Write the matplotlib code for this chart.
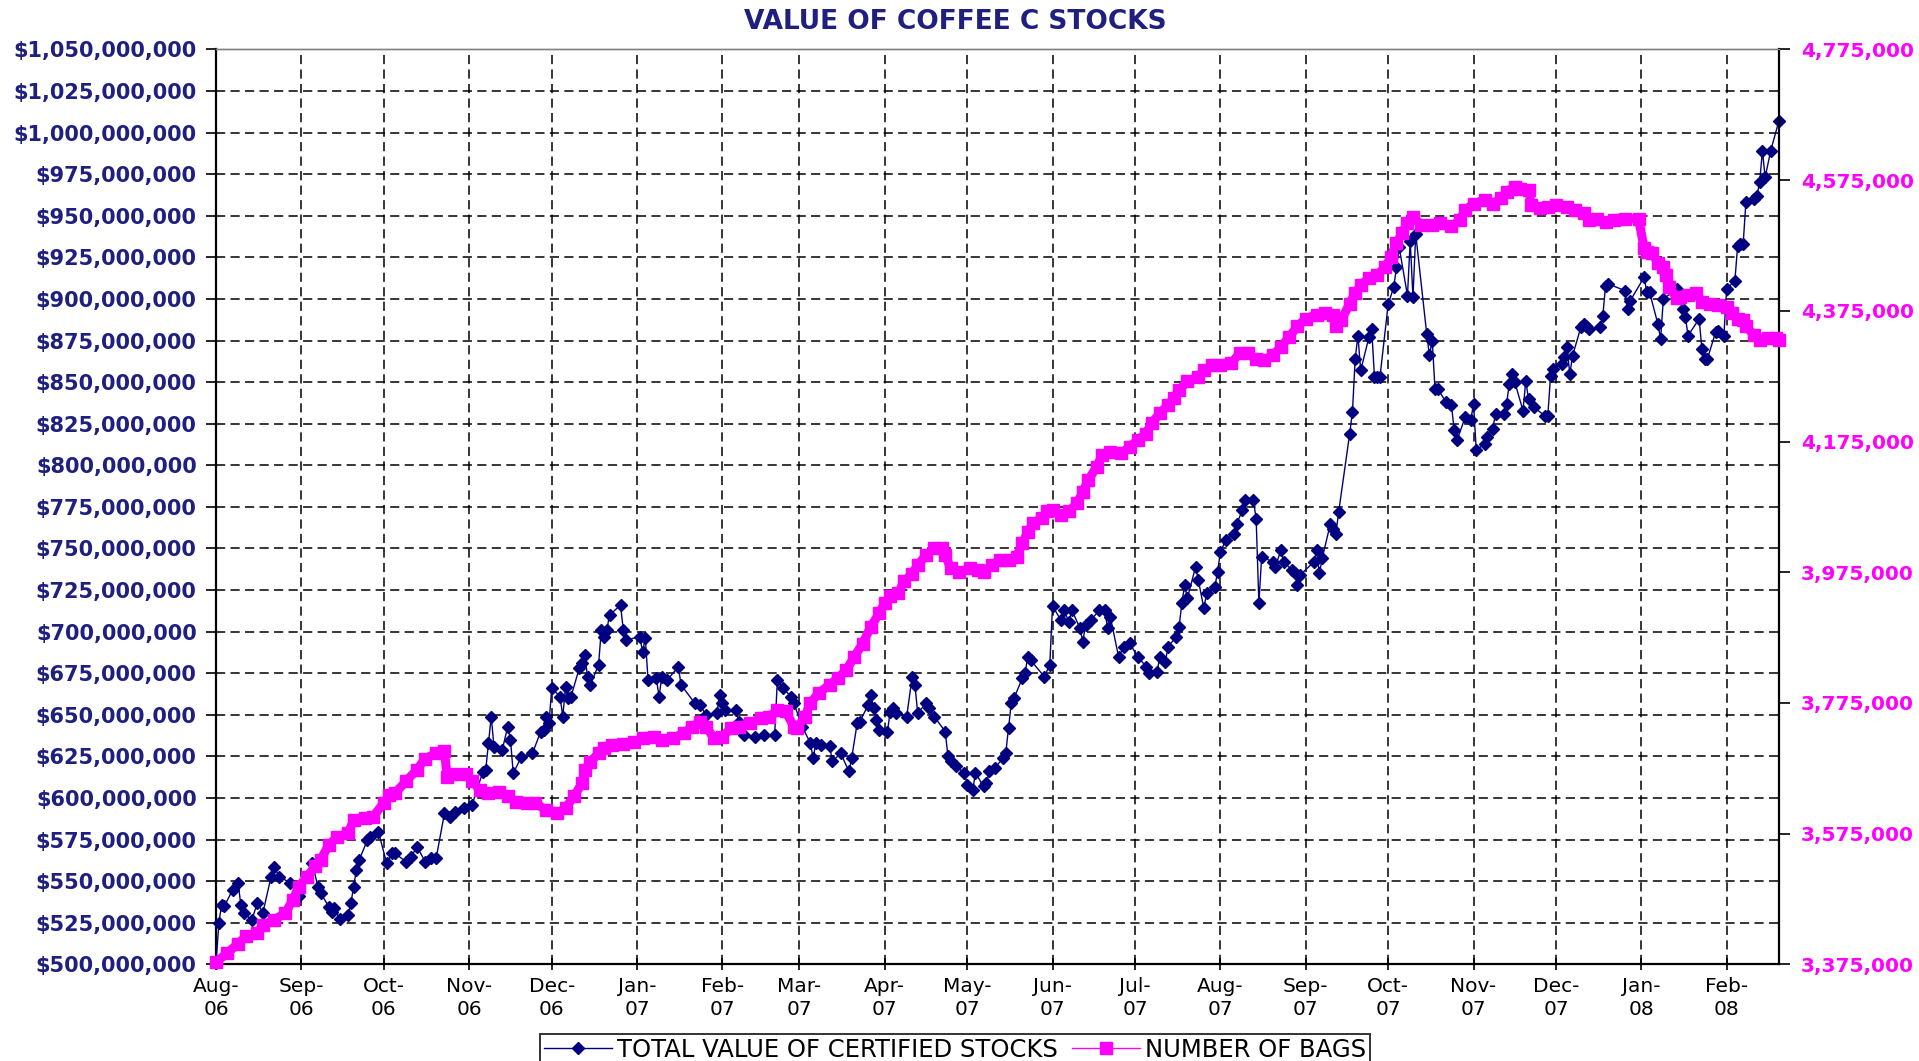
import numpy as np
import pandas as pd
import matplotlib
matplotlib.use("Agg")
import matplotlib.pyplot as plt
import matplotlib.dates as mdates
from matplotlib.ticker import FuncFormatter, MultipleLocator, FixedLocator

# total value of certified stocks, millions of USD
value_dates = [
    "2006-08-01", "2006-08-02", "2006-08-03", "2006-08-04", "2006-08-07", "2006-08-09",
    "2006-08-10", "2006-08-11", "2006-08-14", "2006-08-16", "2006-08-18", "2006-08-21",
    "2006-08-22", "2006-08-24", "2006-08-28", "2006-08-31", "2006-09-05", "2006-09-07",
    "2006-09-08", "2006-09-11", "2006-09-12", "2006-09-13", "2006-09-15", "2006-09-18",
    "2006-09-19", "2006-09-20", "2006-09-21", "2006-09-22", "2006-09-25", "2006-09-26",
    "2006-09-29", "2006-10-02", "2006-10-04", "2006-10-05", "2006-10-09", "2006-10-11",
    "2006-10-13", "2006-10-16", "2006-10-18", "2006-10-20", "2006-10-23", "2006-10-25",
    "2006-10-27", "2006-10-30", "2006-11-02", "2006-11-06", "2006-11-07", "2006-11-08",
    "2006-11-09", "2006-11-10", "2006-11-13", "2006-11-15", "2006-11-16", "2006-11-17",
    "2006-11-20", "2006-11-24", "2006-11-27", "2006-11-28", "2006-11-29", "2006-11-30",
    "2006-12-01", "2006-12-04", "2006-12-05", "2006-12-06", "2006-12-07", "2006-12-08",
    "2006-12-11", "2006-12-12", "2006-12-13", "2006-12-14", "2006-12-15", "2006-12-18",
    "2006-12-19", "2006-12-20", "2006-12-21", "2006-12-22", "2006-12-26", "2006-12-27",
    "2006-12-28", "2007-01-02", "2007-01-03", "2007-01-04", "2007-01-05", "2007-01-08",
    "2007-01-09", "2007-01-10", "2007-01-12", "2007-01-16", "2007-01-17", "2007-01-22",
    "2007-01-24", "2007-01-26", "2007-01-30", "2007-01-31", "2007-02-01", "2007-02-02",
    "2007-02-06", "2007-02-07", "2007-02-09", "2007-02-13", "2007-02-16", "2007-02-20",
    "2007-02-21", "2007-02-23", "2007-02-26", "2007-02-27", "2007-03-02", "2007-03-05",
    "2007-03-06", "2007-03-07", "2007-03-09", "2007-03-12", "2007-03-13", "2007-03-16",
    "2007-03-19", "2007-03-20", "2007-03-22", "2007-03-23", "2007-03-26", "2007-03-27",
    "2007-03-28", "2007-03-29", "2007-03-30", "2007-04-02", "2007-04-03", "2007-04-04",
    "2007-04-05", "2007-04-09", "2007-04-11", "2007-04-12", "2007-04-13", "2007-04-16",
    "2007-04-17", "2007-04-19", "2007-04-23", "2007-04-24", "2007-04-25", "2007-04-27",
    "2007-04-30", "2007-05-01", "2007-05-03", "2007-05-04", "2007-05-07", "2007-05-08",
    "2007-05-09", "2007-05-11", "2007-05-14", "2007-05-15", "2007-05-16", "2007-05-17",
    "2007-05-18", "2007-05-21", "2007-05-22", "2007-05-23", "2007-05-24", "2007-05-29",
    "2007-05-31", "2007-06-01", "2007-06-04", "2007-06-05", "2007-06-07", "2007-06-08",
    "2007-06-11", "2007-06-12", "2007-06-13", "2007-06-15", "2007-06-18", "2007-06-20",
    "2007-06-21", "2007-06-22", "2007-06-25", "2007-06-27", "2007-06-29", "2007-07-02",
    "2007-07-05", "2007-07-06", "2007-07-09", "2007-07-10", "2007-07-12", "2007-07-13",
    "2007-07-16", "2007-07-17", "2007-07-18", "2007-07-19", "2007-07-20", "2007-07-23",
    "2007-07-24", "2007-07-26", "2007-07-27", "2007-07-30", "2007-07-31", "2007-08-01",
    "2007-08-03", "2007-08-06", "2007-08-07", "2007-08-09", "2007-08-10", "2007-08-13",
    "2007-08-14", "2007-08-15", "2007-08-16", "2007-08-20", "2007-08-21", "2007-08-23",
    "2007-08-24", "2007-08-27", "2007-08-28", "2007-08-29", "2007-08-30", "2007-09-04",
    "2007-09-05", "2007-09-06", "2007-09-07", "2007-09-10", "2007-09-11", "2007-09-12",
    "2007-09-13", "2007-09-17", "2007-09-18", "2007-09-19", "2007-09-20", "2007-09-21",
    "2007-09-24", "2007-09-25", "2007-09-26", "2007-09-27", "2007-09-28", "2007-10-01",
    "2007-10-03", "2007-10-04", "2007-10-05", "2007-10-08", "2007-10-09", "2007-10-10",
    "2007-10-11", "2007-10-15", "2007-10-16", "2007-10-17", "2007-10-18", "2007-10-19",
    "2007-10-22", "2007-10-24", "2007-10-25", "2007-10-26", "2007-10-29", "2007-10-31",
    "2007-11-01", "2007-11-02", "2007-11-05", "2007-11-06", "2007-11-08", "2007-11-09",
    "2007-11-12", "2007-11-13", "2007-11-14", "2007-11-15", "2007-11-16", "2007-11-19",
    "2007-11-20", "2007-11-21", "2007-11-23", "2007-11-27", "2007-11-28", "2007-11-29",
    "2007-11-30", "2007-12-03", "2007-12-04", "2007-12-05", "2007-12-06", "2007-12-07",
    "2007-12-10", "2007-12-11", "2007-12-12", "2007-12-13", "2007-12-17", "2007-12-18",
    "2007-12-19", "2007-12-20", "2007-12-26", "2007-12-27", "2007-12-28", "2008-01-02",
    "2008-01-03", "2008-01-04", "2008-01-07", "2008-01-08", "2008-01-09", "2008-01-14",
    "2008-01-16", "2008-01-17", "2008-01-18", "2008-01-22", "2008-01-23", "2008-01-24",
    "2008-01-25", "2008-01-28", "2008-01-29", "2008-01-31", "2008-02-01", "2008-02-04",
    "2008-02-05", "2008-02-06", "2008-02-07", "2008-02-08", "2008-02-11", "2008-02-12",
    "2008-02-13", "2008-02-14", "2008-02-15", "2008-02-17", "2008-02-20",
]
value_musd = [
    500.7, 524.8, 535.8, 535.0, 544.8, 549.0,
    535.8, 531.0, 526.7, 537.0, 531.0, 552.8,
    558.8, 552.8, 549.0, 541.0, 560.8, 546.8,
    542.8, 534.7, 531.7, 533.8, 527.2, 529.7,
    536.8, 546.8, 556.8, 562.8, 574.8, 576.4,
    579.8, 560.8, 566.8, 566.8, 561.8, 564.8,
    570.8, 561.8, 564.0, 564.0, 590.9, 588.8,
    591.8, 593.9, 595.9, 615.9, 617.0, 633.0,
    649.0, 630.9, 628.9, 643.0, 635.0, 614.9,
    624.9, 627.0, 640.0, 641.0, 649.0, 645.0,
    666.0, 661.0, 649.0, 666.6, 660.0, 661.0,
    678.0, 681.0, 686.0, 673.0, 668.0, 680.0,
    701.0, 697.0, 701.0, 710.0, 716.0, 701.0,
    695.0, 697.0, 688.0, 696.0, 671.0, 672.0,
    661.0, 673.0, 671.0, 679.0, 668.0, 657.0,
    656.0, 650.0, 651.0, 662.0, 657.0, 653.0,
    653.0, 646.0, 638.0, 637.0, 638.0, 638.0,
    671.0, 666.0, 661.0, 657.0, 643.0, 633.0,
    624.0, 633.0, 632.0, 631.0, 622.0, 627.0,
    616.0, 624.0, 645.0, 646.0, 656.0, 662.0,
    654.0, 647.0, 641.0, 640.0, 652.0, 654.0,
    651.0, 649.0, 673.0, 668.0, 651.0, 657.0,
    654.0, 649.0, 640.0, 625.0, 622.0, 619.0,
    615.0, 608.0, 605.0, 615.0, 607.0, 609.0,
    616.0, 618.0, 624.0, 627.0, 642.0, 657.0,
    660.0, 672.0, 675.0, 685.0, 683.0, 673.0,
    680.0, 715.5, 707.0, 713.0, 706.0, 713.0,
    702.0, 694.0, 704.0, 707.0, 713.0, 713.0,
    702.0, 709.0, 685.0, 691.0, 693.0, 685.0,
    679.0, 675.0, 676.0, 685.0, 682.0, 691.0,
    697.0, 703.0, 717.0, 728.0, 720.0, 739.0,
    731.0, 714.0, 723.0, 727.0, 736.0, 748.0,
    755.0, 759.0, 765.0, 773.0, 779.0, 779.0,
    768.0, 717.0, 745.0, 742.0, 739.0, 749.0,
    742.0, 737.0, 735.0, 728.0, 734.0, 742.0,
    749.0, 735.0, 744.0, 765.0, 762.0, 759.0,
    772.0, 819.0, 832.0, 864.0, 878.0, 857.0,
    877.0, 882.0, 853.0, 853.0, 853.0, 897.0,
    907.0, 919.0, 931.0, 902.0, 935.0, 901.0,
    939.0, 879.0, 866.0, 875.0, 846.0, 846.0,
    838.0, 836.0, 821.0, 815.0, 829.0, 827.0,
    837.0, 809.0, 813.0, 817.0, 822.0, 831.0,
    830.7, 836.8, 848.8, 854.8, 850.0, 832.8,
    850.8, 839.8, 834.8, 829.7, 829.7, 853.8,
    857.8, 860.8, 864.9, 870.9, 854.8, 865.8,
    882.9, 884.9, 884.0, 881.9, 882.9, 889.9,
    908.0, 909.0, 905.0, 894.0, 899.0, 913.0,
    904.0, 904.0, 885.0, 876.0, 900.0, 906.0,
    894.0, 889.0, 878.0, 888.0, 870.0, 864.0,
    864.0, 880.0, 881.0, 878.0, 906.0, 911.0,
    932.0, 933.0, 933.0, 958.0, 960.0, 962.0,
    970.0, 989.0, 973.0, 989.0, 1007.0,
]

# number of bags, thousands
bag_dates = [
    "2006-08-01", "2006-08-05", "2006-08-09", "2006-08-12", "2006-08-16", "2006-08-18",
    "2006-08-22", "2006-08-26", "2006-08-29", "2006-08-31", "2006-09-03", "2006-09-06",
    "2006-09-08", "2006-09-11", "2006-09-14", "2006-09-18", "2006-09-20", "2006-09-24",
    "2006-09-27", "2006-10-01", "2006-10-03", "2006-10-05", "2006-10-09", "2006-10-13",
    "2006-10-16", "2006-10-20", "2006-10-23", "2006-10-24", "2006-10-26", "2006-10-31",
    "2006-11-02", "2006-11-05", "2006-11-08", "2006-11-12", "2006-11-15", "2006-11-18",
    "2006-11-22", "2006-11-25", "2006-11-29", "2006-12-03", "2006-12-06", "2006-12-09",
    "2006-12-12", "2006-12-13", "2006-12-15", "2006-12-18", "2006-12-20", "2006-12-23",
    "2006-12-27", "2006-12-31", "2007-01-03", "2007-01-07", "2007-01-10", "2007-01-14",
    "2007-01-18", "2007-01-21", "2007-01-24", "2007-01-26", "2007-01-29", "2007-02-01",
    "2007-02-04", "2007-02-07", "2007-02-11", "2007-02-15", "2007-02-18", "2007-02-21",
    "2007-02-24", "2007-02-27", "2007-02-28", "2007-03-03", "2007-03-05", "2007-03-08",
    "2007-03-12", "2007-03-15", "2007-03-18", "2007-03-21", "2007-03-24", "2007-03-27",
    "2007-03-30", "2007-04-01", "2007-04-03", "2007-04-06", "2007-04-08", "2007-04-11",
    "2007-04-13", "2007-04-16", "2007-04-19", "2007-04-22", "2007-04-23", "2007-04-25",
    "2007-04-28", "2007-05-02", "2007-05-05", "2007-05-07", "2007-05-10", "2007-05-13",
    "2007-05-16", "2007-05-19", "2007-05-21", "2007-05-23", "2007-05-25", "2007-05-28",
    "2007-05-30", "2007-06-01", "2007-06-04", "2007-06-07", "2007-06-10", "2007-06-12",
    "2007-06-14", "2007-06-17", "2007-06-19", "2007-06-22", "2007-06-26", "2007-06-29",
    "2007-07-02", "2007-07-05", "2007-07-07", "2007-07-10", "2007-07-13", "2007-07-15",
    "2007-07-17", "2007-07-20", "2007-07-24", "2007-07-26", "2007-07-29", "2007-08-01",
    "2007-08-05", "2007-08-08", "2007-08-11", "2007-08-14", "2007-08-17", "2007-08-20",
    "2007-08-23", "2007-08-26", "2007-08-29", "2007-09-01", "2007-09-05", "2007-09-08",
    "2007-09-11", "2007-09-12", "2007-09-14", "2007-09-17", "2007-09-19", "2007-09-21",
    "2007-09-24", "2007-09-27", "2007-09-30", "2007-10-02", "2007-10-04", "2007-10-06",
    "2007-10-08", "2007-10-10", "2007-10-13", "2007-10-17", "2007-10-20", "2007-10-24",
    "2007-10-27", "2007-10-29", "2007-11-01", "2007-11-05", "2007-11-08", "2007-11-11",
    "2007-11-13", "2007-11-16", "2007-11-18", "2007-11-21", "2007-11-22", "2007-11-25",
    "2007-11-28", "2007-12-01", "2007-12-05", "2007-12-08", "2007-12-11", "2007-12-13",
    "2007-12-16", "2007-12-19", "2007-12-22", "2007-12-26", "2007-12-31", "2008-01-02",
    "2008-01-03", "2008-01-05", "2008-01-07", "2008-01-09", "2008-01-10", "2008-01-11",
    "2008-01-14", "2008-01-15", "2008-01-18", "2008-01-21", "2008-01-23", "2008-01-26",
    "2008-01-29", "2008-02-01", "2008-02-03", "2008-02-05", "2008-02-07", "2008-02-08",
    "2008-02-11", "2008-02-13", "2008-02-16", "2008-02-19", "2008-02-20",
]
bags_k = [
    3379, 3392, 3407, 3418, 3423, 3435,
    3443, 3453, 3474, 3494, 3509, 3525,
    3535, 3558, 3570, 3576, 3596, 3599,
    3601, 3622, 3634, 3637, 3655, 3673,
    3690, 3698, 3701, 3662, 3667, 3667,
    3655, 3642, 3637, 3639, 3632, 3624,
    3622, 3622, 3611, 3606, 3614, 3632,
    3652, 3673, 3685, 3698, 3706, 3711,
    3713, 3716, 3721, 3723, 3718, 3721,
    3729, 3739, 3746, 3739, 3721, 3723,
    3736, 3739, 3744, 3752, 3754, 3764,
    3762, 3739, 3736, 3754, 3775, 3790,
    3803, 3813, 3825, 3846, 3866, 3892,
    3912, 3928, 3938, 3943, 3961, 3973,
    3986, 4001, 4012, 4012, 4001, 3981,
    3976, 3981, 3978, 3976, 3986, 3994,
    3994, 3999, 4019, 4037, 4050, 4058,
    4068, 4070, 4063, 4068, 4081, 4098,
    4116, 4136, 4154, 4159, 4157, 4167,
    4177, 4187, 4203, 4218, 4231, 4241,
    4254, 4267, 4274, 4284, 4292, 4292,
    4295, 4310, 4310, 4302, 4300, 4307,
    4320, 4335, 4351, 4363, 4369, 4371,
    4369, 4351, 4361, 4386, 4402, 4414,
    4425, 4430, 4442, 4458, 4478, 4494,
    4509, 4519, 4506, 4506, 4509, 4504,
    4514, 4529, 4539, 4544, 4539, 4547,
    4557, 4565, 4562, 4560, 4537, 4532,
    4534, 4537, 4534, 4529, 4524, 4514,
    4516, 4511, 4514, 4516, 4516, 4471,
    4465, 4463, 4448, 4442, 4430, 4412,
    4394, 4396, 4399, 4402, 4389, 4386,
    4384, 4381, 4371, 4363, 4361, 4351,
    4338, 4330, 4333, 4333, 4330,
]

NAVY = "#000080"
LABEL_NAVY = "#1F1F80"
MAGENTA = "#FF00FF"

vd = pd.to_datetime(value_dates)
bd = pd.to_datetime(bag_dates)

fig = plt.figure(figsize=(19.19, 10.61), dpi=100)
ax = fig.add_axes([0.1126, 0.0910, 0.8144, 0.8625])
ax2 = ax.twinx()

line_value, = ax.plot(
    vd, np.array(value_musd) * 1e6, color=NAVY, lw=1, marker="D", ms=6.5,
    mfc=NAVY, mec=NAVY, clip_on=False, zorder=3,
    label="TOTAL VALUE OF CERTIFIED STOCKS",
)
# thick line underneath so the square markers read as one solid band
ax2.plot(bd, np.array(bags_k) * 1000, color=MAGENTA, lw=6.5,
         solid_capstyle="butt", clip_on=False, zorder=2)
line_bags, = ax2.plot(
    bd, np.array(bags_k) * 1000, color=MAGENTA, lw=1, marker="s", ms=8.5,
    mfc=MAGENTA, mec=MAGENTA, clip_on=False, zorder=3,
    label="NUMBER OF BAGS",
)

ax.set_xlim(pd.Timestamp("2006-08-01"), pd.Timestamp("2008-02-20"))
ax.set_ylim(500e6, 1050e6)
ax2.set_ylim(3375000, 4775000)

ax.yaxis.set_major_locator(MultipleLocator(25e6))
ax.yaxis.set_major_formatter(FuncFormatter(lambda v, p: f"${v:,.0f}"))
ax2.yaxis.set_major_locator(FixedLocator(np.arange(3375000, 4775001, 200000)))
ax2.yaxis.set_major_formatter(FuncFormatter(lambda v, p: f"{v:,.0f}"))

ax.xaxis.set_major_locator(mdates.MonthLocator())
ax.xaxis.set_major_formatter(mdates.DateFormatter("%b-\n%y"))

dash = (0, (6, 3.5))
ax.set_axisbelow(True)
ax.grid(True, color="black", linestyle=dash, linewidth=1.1)

ax.tick_params(axis="y", direction="out", length=7, width=1.2, pad=7,
               labelsize=15, labelcolor=LABEL_NAVY)
for t in ax.get_yticklabels():
    t.set_fontweight("bold")
ax2.tick_params(axis="y", direction="out", length=8, width=1.2, pad=8,
                labelsize=14.5, labelcolor=MAGENTA)
for t in ax2.get_yticklabels():
    t.set_fontweight("bold")
ax.tick_params(axis="x", direction="inout", length=8, width=1.2, pad=5,
               labelsize=14.5)
for t in ax.get_xticklabels():
    t.set_linespacing(1.3)
    t.set_ha("center")

for a in (ax, ax2):
    a.spines["top"].set_color("#808080")
    a.spines["top"].set_linewidth(1)
ax.spines["left"].set_linewidth(1.6)
ax.spines["bottom"].set_linewidth(1.6)
ax.spines["right"].set_visible(False)
ax2.spines["left"].set_visible(False)
ax2.spines["bottom"].set_visible(False)
ax2.spines["right"].set_linewidth(1.6)

fig.text(955 / 1919, 1 - 22 / 1061, "VALUE OF COFFEE C STOCKS", ha="center",
         va="center", fontsize=19, fontweight="bold", color=LABEL_NAVY)

leg = fig.legend(
    [line_value, line_bags],
    ["TOTAL VALUE OF CERTIFIED STOCKS", "NUMBER OF BAGS"],
    loc="upper center", bbox_to_anchor=(955 / 1919, 1 - 1034 / 1061),
    ncol=2, fontsize=17.5, frameon=True, fancybox=False, edgecolor="black",
    handlelength=2.8, handletextpad=0.2, columnspacing=0.6, borderpad=0.15,
    borderaxespad=0,
)
leg.get_frame().set_linewidth(1.4)

fig.savefig("out.png", dpi=100)
